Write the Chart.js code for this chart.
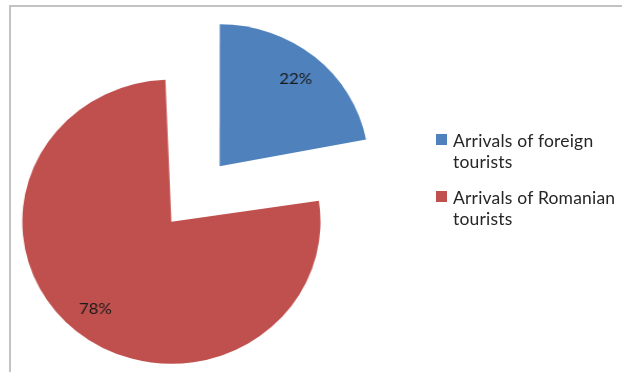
<!DOCTYPE html>
<html>
<head>
<meta charset="utf-8">
<script src="https://cdn.jsdelivr.net/npm/chart.js@4/dist/chart.umd.min.js"></script>
<style>
  html, body { margin: 0; padding: 0; background: #fff; overflow: hidden; }
  #wrap { position: relative; width: 622px; height: 372px; overflow: hidden; }
  #frame {
    position: absolute; left: 9px; top: 5px; width: 700px; height: 500px;
    border-left: 2px solid #c3c3c3; border-top: 2px solid #c3c3c3;
  }
  /* the pie is drawn a little wider than tall */
  #pie { position: absolute; left: 0; top: 0; transform: scaleX(1.05); transform-origin: 195.5px 194px; }
  #legend {
    position: absolute; left: 436px; top: 130px; margin: 0; padding: 0;
    list-style: none; font-family: Lato, "Noto Sans", sans-serif; font-size: 17.5px;
    letter-spacing: 0.2px; color: #262626; line-height: 21px; white-space: nowrap;
  }
  #legend li { position: relative; padding-left: 17px; margin-bottom: 15px; }
  #legend li span.box {
    position: absolute; left: 0; top: 4px; width: 11px; height: 11px;
  }
</style>
</head>
<body>
<div id="wrap">
  <div id="frame"></div>
  <canvas id="pie" width="622" height="372"></canvas>
  <ul id="legend"></ul>
</div>
<script>
const labels = ['Arrivals of foreign tourists', 'Arrivals of Romanian tourists'];
const legendLines = [['Arrivals of foreign', 'tourists'], ['Arrivals of Romanian', 'tourists']];
const shares = [22, 78];
const colors = ['#4F81BD', '#C0504D'];

const PIE_RADIUS = 142;
const EXPLODE = 36;

// ArcElement grows big slices by the offset; take that back so both keep one radius
const keepRadius = {
  id: 'keepRadius',
  afterDatasetUpdate(chart, args) {
    args.meta.data.forEach(arc => {
      const fix = 1 - Math.sin(Math.min(Math.PI, arc.circumference));
      arc.outerRadius = PIE_RADIUS - EXPLODE * fix;
    });
  }
};

// percentage text inside each exploded slice
const sliceLabels = {
  id: 'sliceLabels',
  afterDatasetsDraw(chart) {
    const ctx = chart.ctx;
    const meta = chart.getDatasetMeta(0);
    ctx.save();
    ctx.font = '16px Lato, "Noto Sans", sans-serif';
    ctx.fillStyle = '#1a1a1a';
    ctx.textAlign = 'center';
    ctx.textBaseline = 'middle';
    meta.data.forEach((arc, i) => {
      const {x, y, startAngle, endAngle} = arc.getProps(['x', 'y', 'startAngle', 'endAngle'], true);
      const mid = (startAngle + endAngle) / 2;
      const d = EXPLODE + PIE_RADIUS * 0.8;
      ctx.fillText(chart.data.datasets[0].data[i] + '%', x + Math.cos(mid) * d, y + Math.sin(mid) * d);
    });
    ctx.restore();
  }
};

new Chart(document.getElementById('pie'), {
  type: 'pie',
  data: {
    labels: labels,
    datasets: [{
      data: shares,
      backgroundColor: colors,
      borderWidth: 0,
      offset: EXPLODE * 4   // arcs move offset / 4 px outward
    }]
  },
  plugins: [keepRadius, sliceLabels],
  options: {
    responsive: false,
    animation: false,
    radius: PIE_RADIUS,
    layout: { padding: { left: 0, right: 231, top: 16, bottom: 0 } },
    plugins: {
      legend: { display: false },
      tooltip: { enabled: false }
    }
  }
});

const ul = document.getElementById('legend');
legendLines.forEach((lines, i) => {
  const li = document.createElement('li');
  const box = document.createElement('span');
  box.className = 'box';
  box.style.background = colors[i];
  li.appendChild(box);
  lines.forEach((t, j) => {
    if (j) li.appendChild(document.createElement('br'));
    li.appendChild(document.createTextNode(t));
  });
  ul.appendChild(li);
});
</script>
</body>
</html>
